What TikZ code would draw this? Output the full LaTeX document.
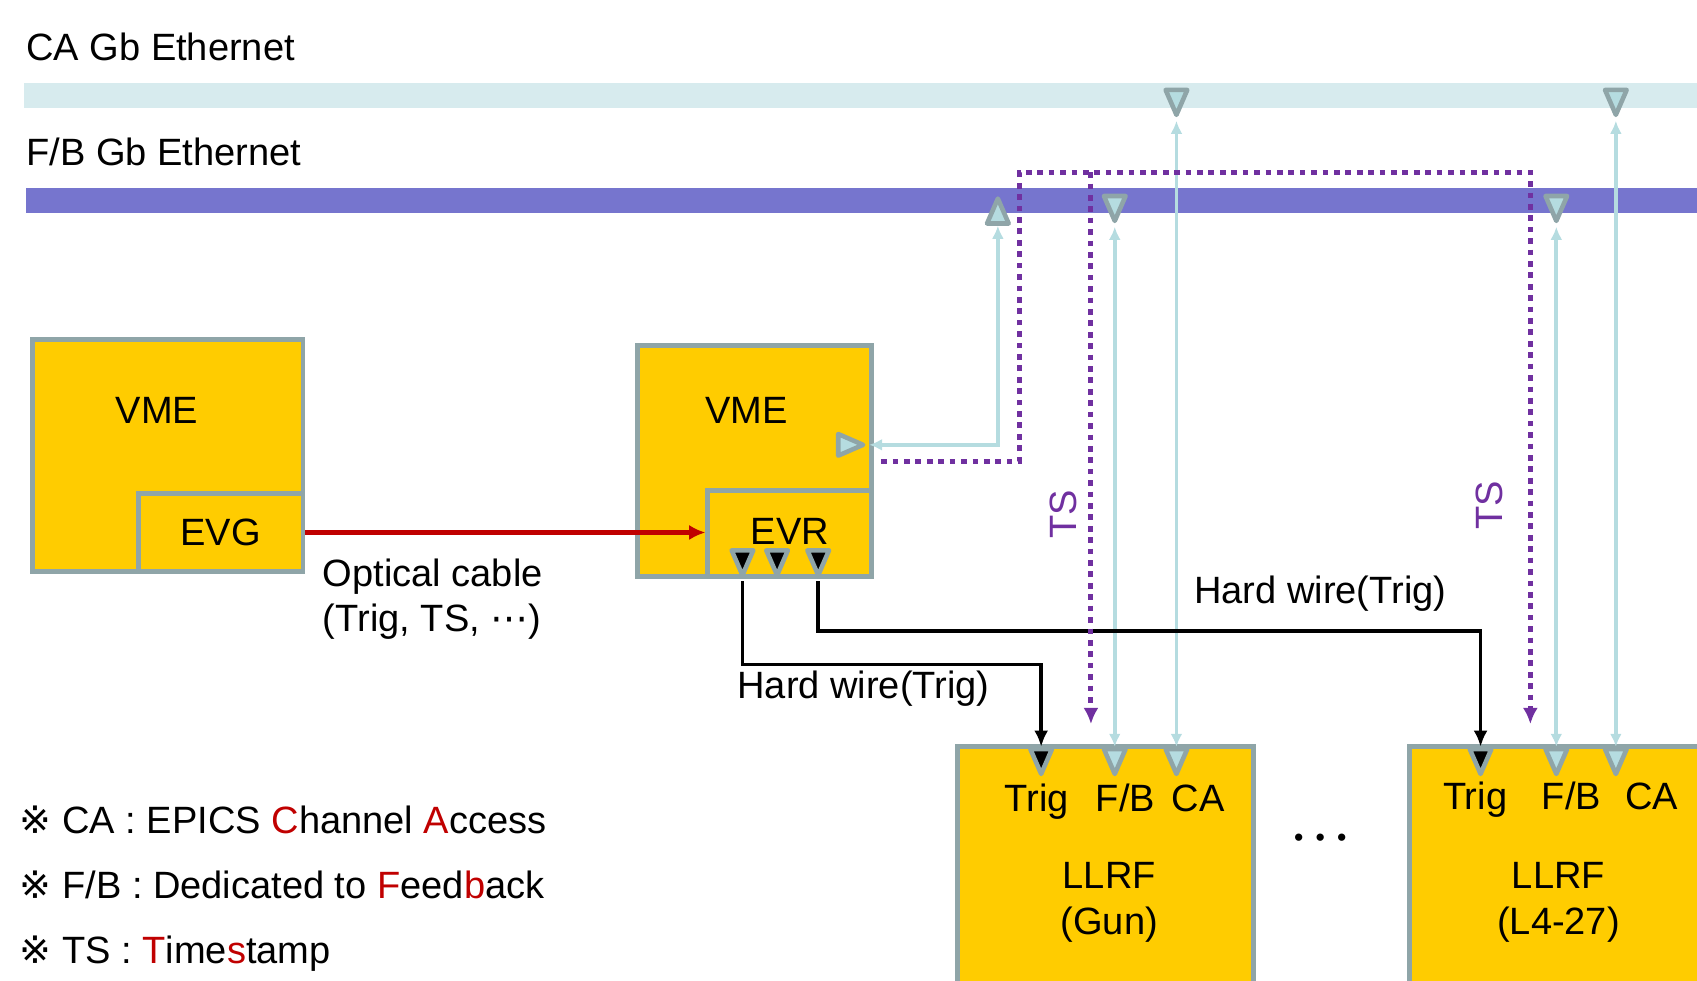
\documentclass[tikz,border=0pt]{standalone}
\usepackage{fontspec}
\setmainfont{Liberation Sans}
\newfontfamily\markfont{DejaVu Sans}
\usepackage{tikz}
\usetikzlibrary{arrows.meta, positioning, shapes.geometric}

\definecolor{unitfill}{HTML}{FFCC00}
\definecolor{unitedge}{HTML}{8FA5A8}
\definecolor{caline}{HTML}{B5DCE0}
\definecolor{cabus}{HTML}{D7EBEE}
\definecolor{fbbus}{HTML}{7675CE}
\definecolor{tspurple}{HTML}{7030A0}
\definecolor{optred}{HTML}{C00000}

\newcommand{\hl}[1]{\textcolor{optred}{#1}}
\newcommand{\refmark}{{\markfont ※}}

\begin{document}
\begin{tikzpicture}[
    every node/.style={font=\fontsize{20}{24}\selectfont},
    unit/.style={draw=unitedge, fill=unitfill, line width=2.5pt, inner sep=0pt},
    lbl/.style={inner sep=0pt, anchor=base},
    tslbl/.style={inner sep=0pt, text=tspurple, rotate=90},
    port/.style={isosceles triangle, isosceles triangle stretches=true, minimum width=0.40cm, minimum height=0.46cm, inner sep=0pt, draw=unitedge, line width=2.4pt, fill=caline, line join=round},
    down/.style={shape border rotate=-90},
    up/.style={shape border rotate=90},
    trigport/.style={port, down, fill=black},
    cawire/.style={{Latex[length=0.24cm,width=0.22cm]}-{Latex[length=0.24cm,width=0.22cm]}, draw=caline, line width=2pt},
    hardwire/.style={-{Latex[length=0.3cm,width=0.26cm]}, line width=2pt},
    optical/.style={-{Latex[length=0.3cm,width=0.28cm]}, draw=optred, line width=2.2pt},
    tsline/.style={-{Latex[length=0.3cm,width=0.28cm]}, draw=tspurple, line width=2.6pt, dash pattern=on 3pt off 3pt},
]
  \useasboundingbox (0,0) rectangle (31.36,-18.12);

  % network buses
  \fill[cabus] (0.44,-1.54) rectangle (31.60,-2.00);
  \fill[fbbus] (0.48,-3.48) rectangle (31.60,-3.94);
  \node[lbl, anchor=base west] (cabuslbl) at (0.48,-1.12) {CA Gb Ethernet};
  \node[lbl, anchor=base west] (fbbuslbl) at (0.48,-3.06) {F/B Gb Ethernet};

  % timing crates
  \node[unit, minimum width=5.00cm, minimum height=4.28cm] (vme1) at (3.10,-8.42) {};
  \node[unit, minimum width=3.04cm, minimum height=1.44cm] (evg) at (4.08,-9.84) {EVG};
  \node[lbl] (vme1lbl) at (2.90,-7.82) {VME};
  \node[unit, minimum width=4.32cm, minimum height=4.28cm] (vme2) at (13.94,-8.52) {};
  \node[unit, minimum width=3.02cm, minimum height=1.60cm] (evr) at (14.59,-9.86) {};
  \node[lbl] (vme2lbl) at (13.80,-7.82) {VME};
  \node[lbl] (evrlbl) at (14.60,-10.06) {EVR};

  % LLRF systems
  \node[unit, minimum width=5.46cm, minimum height=4.80cm] (gun) at (20.43,-16.20) {};
  \node[unit, minimum width=6.40cm, minimum height=4.80cm] (l4) at (29.24,-16.20) {};

  % ports
  \node[port, down, anchor=lower side] (cagun) at (21.74,-1.62) {};
  \node[port, down, anchor=lower side] (cal4) at (29.86,-1.62) {};
  \node[port, down, anchor=lower side] (fbgun) at (20.60,-3.58) {};
  \node[port, down, anchor=lower side] (fbl4) at (28.76,-3.58) {};
  \node[port, up, anchor=apex] (fbvme) at (18.44,-3.56) {};
  \node[port, anchor=apex] (vmeport) at (16.06,-8.22) {};
  \node[trigport, anchor=apex] (evr1) at (13.72,-10.74) {};
  \node[trigport, anchor=apex] (evr2) at (14.36,-10.74) {};
  \node[trigport, anchor=apex] (evr3) at (15.12,-10.74) {};
  \node[trigport, anchor=lower side] (gtrig) at (19.24,-13.80) {};
  \node[port, down, anchor=lower side] (gfb) at (20.60,-13.80) {};
  \node[port, down, anchor=lower side] (gca) at (21.74,-13.80) {};
  \node[trigport, anchor=lower side] (ltrig) at (27.36,-13.80) {};
  \node[port, down, anchor=lower side] (lfb) at (28.76,-13.80) {};
  \node[port, down, anchor=lower side] (lca) at (29.86,-13.80) {};

  \node[lbl] (gtrigl) at (19.16,-15.00) {Trig};
  \node[lbl] (gfbl) at (20.80,-15.00) {F/B};
  \node[lbl] (gcal) at (22.14,-15.00) {CA};
  \node[lbl] (ltrigl) at (27.26,-14.96) {Trig};
  \node[lbl] (lfbl) at (29.04,-14.96) {F/B};
  \node[lbl] (lcal) at (30.52,-14.96) {CA};
  \node[align=center, inner sep=0pt] (gunname) at (20.50,-16.68) {LLRF\\(Gun)};
  \node[align=center, inner sep=0pt] (l4name) at (28.80,-16.68) {LLRF\\(L4-27)};
  \node[inner sep=0pt, font=\fontsize{14}{16}\selectfont] (dots) at (24.40,-15.52) {•\hspace{6.4pt}•\hspace{6.4pt}•};

  % links
  \draw[cawire] (cagun.apex) -- (gca.lower side);
  \draw[cawire] (cal4.apex) -- (lca.lower side);
  \draw[cawire] (fbgun.apex) -- (gfb.lower side);
  \draw[cawire] (fbl4.apex) -- (lfb.lower side);
  \draw[cawire] (fbvme.lower side) |- (vmeport.apex);

  \draw[optical] (evg.east) -- (evg.east -| evr.west);
  \node[align=left, inner sep=0pt, anchor=west] (optlbl) at (5.96,-11.07) {Optical cable\\(Trig, TS, {\markfont ⋯})};

  \draw[hardwire] (evr1.apex) -- ++(0,-1.54) -| (gtrig.lower side);
  \draw[hardwire] (evr3.apex) -- ++(0,-0.92) -| (ltrig.lower side);
  \node[lbl, anchor=base west] (hw1lbl) at (13.62,-12.90) {Hard wire(Trig)};
  \node[lbl, anchor=base west] (hw2lbl) at (22.06,-11.16) {Hard wire(Trig)};

  % timestamp path
  \coordinate (tstop) at (18.84,-3.18);
  \coordinate (tsgun) at (20.16,-13.38);
  \coordinate (tsl4) at (28.28,-13.38);
  \draw[tsline] ([xshift=4pt]vme2.east) -| (tstop) -| (tsl4);
  \draw[tsline] (tsgun |- tstop) -- (tsgun);
  \node[tslbl] (ts1lbl) at (19.66,-9.50) {TS};
  \node[tslbl] (ts2lbl) at (27.52,-9.34) {TS};

  % legend
  \node[lbl, anchor=base west] (leg1) at (0.36,-15.40) {\refmark\ CA : EPICS \hl{C}hannel \hl{A}ccess};
  \node[lbl, anchor=base west] (leg2) at (0.36,-16.60) {\refmark\ F/B : Dedicated to \hl{F}eed\hl{b}ack};
  \node[lbl, anchor=base west] (leg3) at (0.36,-17.80) {\refmark\ TS : \hl{T}ime\hl{s}tamp};
\end{tikzpicture}
\end{document}
